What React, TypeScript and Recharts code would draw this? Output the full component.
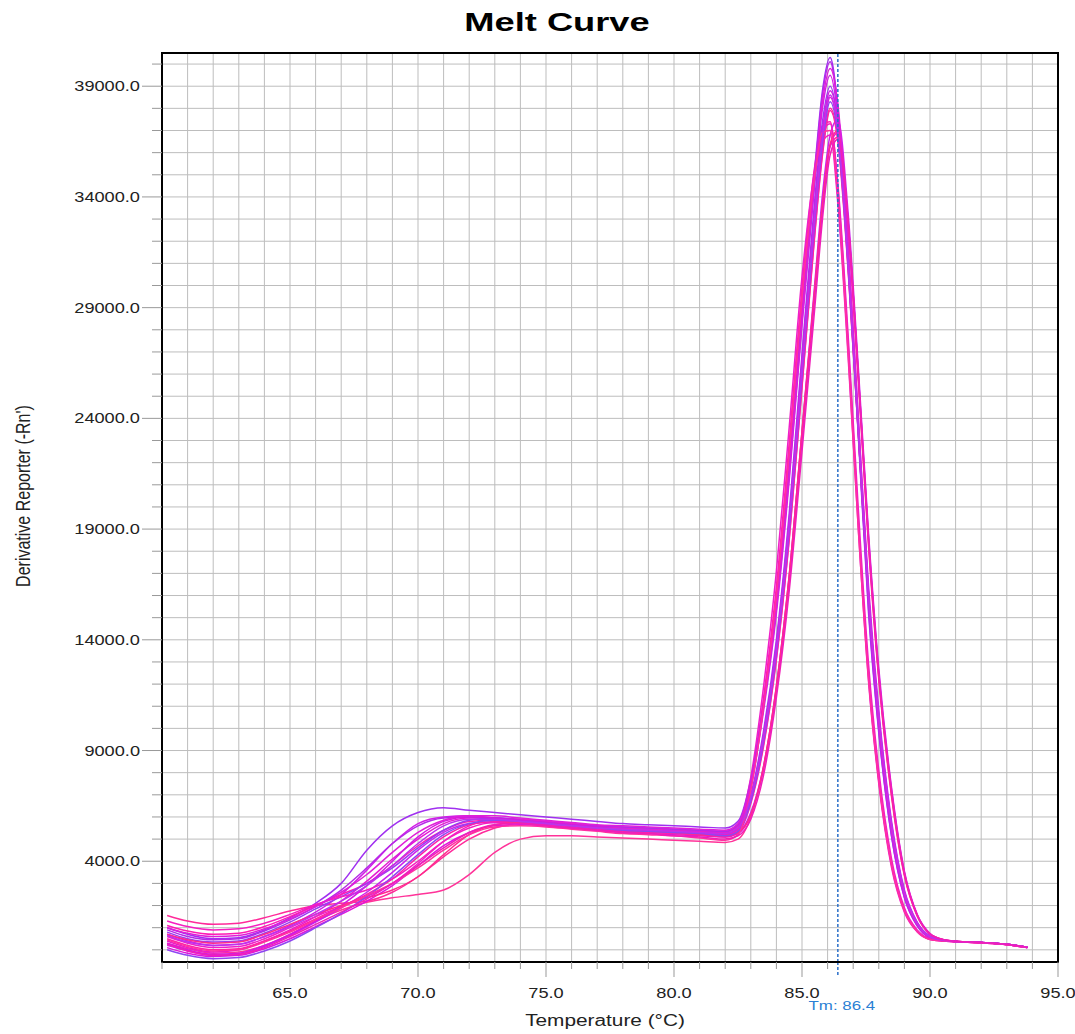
import React from 'react'
import {
  LineChart,
  Line,
  XAxis,
  YAxis,
  CartesianGrid,
  ReferenceLine,
  ReferenceArea,
  Label,
} from 'recharts'

// temperatures (°C) shared by every well
const temps = [
  60.2, 61, 62, 63, 64, 65, 66, 67, 68, 69, 70, 71, 72, 73, 74, 75, 76, 77, 78, 79, 80, 81, 82,
  82.5, 83, 83.5, 84, 84.5, 85, 85.5, 85.8, 86.1, 86.4, 86.8, 87.2, 87.6, 88, 88.5, 89, 89.5, 90,
  90.5, 91, 92, 93, 93.8,
]

// derivative reporter per well
const wellA1 = [1550, 1300, 1150, 1200, 1450, 1750, 2000, 2100, 2200, 2600, 3300, 4200, 5000, 5500, 5700, 5650, 5550, 5450, 5400, 5350, 5300, 5250, 5200,
  5400, 6700, 9300, 13200, 18600, 25500, 32400, 36000, 38000, 36700, 30800, 23300, 15800, 10400, 5500, 2550, 1200, 600, 430, 380, 330, 250, 120]
const wellA2 = [1000, 700, 500, 550, 900, 1450, 2100, 3000, 4500, 5600, 6200, 6420, 6300, 6200, 6100, 6000, 5900, 5800, 5700, 5650, 5600, 5550, 5500,
  5800, 7700, 11200, 15800, 21800, 28800, 35300, 38800, 40300, 38000, 31300, 23200, 15200, 9800, 5100, 2350, 1080, 540, 420, 380, 320, 240, 100]
const wellA3 = [300, 50, -150, -100, 200, 700, 1300, 1800, 2150, 2350, 2500, 2700, 3400, 4400, 5000, 5150, 5150, 5100, 5050, 5000, 4950, 4900, 4850,
  5000, 6000, 8200, 11800, 16800, 23300, 29800, 33600, 36300, 36700, 32500, 25600, 18200, 12200, 6900, 3350, 1520, 700, 460, 390, 330, 250, 110]
const wellA4 = [700, 400, 200, 250, 600, 1100, 1700, 2500, 3600, 4800, 5700, 6000, 6050, 5950, 5850, 5750, 5650, 5600, 5500, 5450, 5400, 5350, 5300,
  5600, 7400, 10800, 15200, 21200, 28200, 34600, 38000, 39500, 37600, 31300, 23600, 15800, 10200, 5300, 2450, 1120, 560, 420, 380, 320, 240, 100]
const wellA5 = [400, 100, -100, 0, 400, 900, 1500, 2200, 3100, 4100, 5000, 5700, 5950, 5950, 5850, 5750, 5650, 5550, 5450, 5400, 5350, 5300, 5250,
  5450, 6800, 9500, 13500, 19000, 26000, 33000, 36500, 38500, 37000, 31000, 23500, 16000, 10500, 5600, 2600, 1200, 600, 430, 380, 330, 250, 120]
const wellA6 = [1100, 850, 700, 750, 1050, 1500, 2000, 2500, 3000, 3800, 4700, 5400, 5800, 5850, 5750, 5650, 5550, 5450, 5400, 5350, 5300, 5250, 5200,
  5500, 7500, 11400, 16400, 22900, 29900, 35400, 37200, 37400, 34400, 27400, 19400, 12400, 7700, 3850, 1780, 840, 480, 400, 370, 310, 230, 100]
const wellB1 = [200, -50, -250, -200, 150, 650, 1250, 1900, 2600, 3500, 4500, 5300, 5700, 5750, 5700, 5600, 5500, 5400, 5350, 5300, 5250, 5200, 5150,
  5300, 6200, 8300, 11900, 16900, 23400, 30100, 34100, 36800, 37500, 33300, 26300, 18800, 12700, 7300, 3550, 1600, 740, 470, 390, 330, 250, 110]
const wellB2 = [800, 500, 350, 400, 750, 1250, 1850, 2400, 3000, 3700, 4600, 5400, 5850, 5950, 5900, 5800, 5700, 5600, 5550, 5500, 5450, 5400, 5350,
  5600, 7000, 9900, 14000, 19700, 26900, 33900, 37400, 39000, 37300, 31200, 23600, 16000, 10400, 5500, 2550, 1180, 590, 430, 380, 330, 250, 120]
const wellB3 = [600, 300, 100, 150, 500, 1000, 1500, 1950, 2400, 3000, 3900, 4900, 5600, 5900, 5900, 5800, 5700, 5600, 5500, 5450, 5400, 5350, 5300,
  5600, 7800, 11900, 17100, 23600, 30400, 35200, 36500, 36800, 33700, 26800, 19000, 12100, 7500, 3700, 1700, 810, 470, 400, 370, 310, 230, 100]
const wellB4 = [100, -150, -300, -250, 50, 500, 1050, 1600, 2200, 2900, 3800, 4700, 5300, 5600, 5650, 5600, 5500, 5400, 5300, 5250, 5200, 5150, 5100,
  5250, 6100, 8200, 11700, 16600, 23000, 29500, 33400, 36300, 36900, 32900, 26000, 18500, 12400, 7100, 3450, 1560, 720, 460, 390, 330, 250, 110]
const wellB5 = [900, 600, 450, 500, 850, 1350, 1950, 2700, 3700, 4800, 5600, 5950, 6000, 5950, 5850, 5750, 5650, 5600, 5550, 5500, 5450, 5400, 5350,
  5650, 7600, 11100, 15600, 21600, 28600, 35100, 38600, 40100, 37900, 31400, 23400, 15400, 9900, 5150, 2380, 1090, 550, 420, 380, 320, 240, 100]
const wellB6 = [500, 200, 0, 50, 400, 850, 1400, 1950, 2500, 3200, 4200, 5100, 5650, 5800, 5750, 5650, 5550, 5450, 5350, 5300, 5250, 5200, 5100,
  5300, 6600, 9200, 13100, 18500, 25400, 32300, 35900, 37900, 36500, 30700, 23300, 15900, 10400, 5550, 2580, 1190, 600, 430, 380, 330, 250, 120]
const wellC1 = [1300, 1050, 900, 950, 1200, 1600, 2050, 2400, 2700, 3200, 4000, 4900, 5500, 5750, 5750, 5650, 5550, 5450, 5400, 5350, 5300, 5250, 5200,
  5450, 7300, 11000, 15900, 22300, 29300, 34900, 36900, 37300, 34600, 27800, 19900, 12900, 8100, 4100, 1900, 900, 500, 410, 370, 310, 230, 100]
const wellC2 = [300, 0, -200, -150, 200, 700, 1300, 2000, 2900, 4000, 5100, 5800, 6000, 5950, 5850, 5750, 5650, 5550, 5450, 5400, 5350, 5300, 5250,
  5500, 6900, 9700, 13800, 19400, 26600, 33500, 37000, 38800, 37400, 31500, 24000, 16400, 10800, 5800, 2700, 1250, 620, 440, 380, 330, 250, 120]
const wellC3 = [700, 450, 300, 350, 700, 1150, 1600, 2000, 2350, 2700, 3300, 4300, 5200, 5650, 5750, 5700, 5600, 5500, 5400, 5350, 5300, 5200, 5150,
  5300, 6100, 8300, 11900, 16900, 23400, 29900, 33700, 36400, 37000, 32900, 25900, 18400, 12300, 7000, 3400, 1550, 720, 470, 390, 330, 250, 110]
const wellC4 = [0, -250, -400, -350, -50, 400, 1000, 1650, 2400, 3300, 4300, 5200, 5700, 5850, 5800, 5700, 5600, 5500, 5400, 5350, 5300, 5250, 5150,
  5350, 6700, 9400, 13400, 18900, 25900, 32900, 36400, 38300, 36800, 30900, 23400, 15900, 10500, 5600, 2600, 1200, 600, 430, 380, 330, 250, 120]
const wellC5 = [1000, 750, 600, 650, 950, 1400, 1950, 2600, 3400, 4400, 5300, 5850, 6050, 6050, 5950, 5850, 5750, 5650, 5600, 5550, 5500, 5450, 5400,
  5700, 7500, 11000, 15400, 21400, 28400, 34900, 38300, 39800, 38200, 32000, 24000, 16000, 10300, 5400, 2500, 1150, 570, 420, 380, 320, 240, 100]
const wellC6 = [450, 150, -50, 0, 350, 800, 1350, 1900, 2450, 3000, 3700, 4500, 5200, 5550, 5600, 5550, 5450, 5350, 5250, 5200, 5150, 5050, 4950,
  5200, 7200, 11000, 16000, 22500, 29500, 35000, 36900, 37000, 34000, 27000, 19000, 12200, 7600, 3800, 1750, 830, 470, 400, 370, 310, 230, 100]
const wellD1 = [650, 350, 200, 250, 600, 1050, 1600, 2200, 2900, 3800, 4800, 5600, 5900, 5900, 5800, 5700, 5600, 5500, 5450, 5400, 5350, 5300, 5250,
  5500, 6900, 9600, 13600, 19200, 26200, 33200, 36700, 38600, 37100, 31100, 23600, 16100, 10600, 5650, 2620, 1210, 600, 430, 380, 330, 250, 120]
const wellD2 = [250, -50, -250, -200, 100, 600, 1150, 1700, 2300, 3000, 3800, 4600, 5300, 5650, 5700, 5600, 5500, 5400, 5300, 5250, 5150, 5100, 5000,
  5150, 5900, 7900, 11400, 16200, 22500, 29000, 33000, 35900, 36600, 32800, 26000, 18600, 12500, 7200, 3500, 1580, 720, 460, 390, 330, 250, 110]

const wells = [
  wellA1, wellA2, wellA3, wellA4, wellA5, wellA6, wellB1, wellB2, wellB3, wellB4,
  wellB5, wellB6, wellC1, wellC2, wellC3, wellC4, wellC5, wellC6, wellD1, wellD2,
]
const wellNames = [
  'A1', 'A2', 'A3', 'A4', 'A5', 'A6', 'B1', 'B2', 'B3', 'B4',
  'B5', 'B6', 'C1', 'C2', 'C3', 'C4', 'C5', 'C6', 'D1', 'D2',
]
const lineColors = [
  '#ff2a9a', '#a030f0', '#ff3399', '#d21ee6', '#e619d2', '#ff1ab4', '#cc22ee', '#9b3cf0', '#f020c8', '#e014dc',
  '#b52ae8', '#ff20a8', '#f51ec0', '#d41ae0', '#ff2a8c', '#8f45f2', '#e01ed8', '#ff30a0', '#c030ec', '#f01eb8',
]

// tick labels
const xLabels = [65, 70, 75, 80, 85, 90, 95]
const yLabels = [4000, 9000, 14000, 19000, 24000, 29000, 34000, 39000]
const tmValue = 86.4

const xGrid = Array.from({ length: 36 }, (_, i) => 60 + i)
const yGrid = Array.from({ length: 41 }, (_, i) => i * 1000)

const rows = temps.map((t, i) => {
  const row: Record<string, number> = { t }
  wells.forEach((w, j) => {
    row[wellNames[j]] = w[i]
  })
  return row
})

const FONT = "'Liberation Sans', Arial, sans-serif"

const XTick = (props: any) => {
  const { x, y, payload } = props
  if (!xLabels.includes(payload.value)) return <g />
  return (
    <g>
      <line x1={x} y1={y} x2={x} y2={y + 8} stroke='#999' />
      <text
        transform={`translate(${x} ${y + 29}) scale(1.3 1)`}
        textAnchor='middle'
        fontSize={14}
        fontFamily={FONT}
        fill='#222'
      >
        {payload.value.toFixed(1)}
      </text>
    </g>
  )
}

const YTick = (props: any) => {
  const { x, y, payload } = props
  if (!yLabels.includes(payload.value)) return <g />
  return (
    <g>
      <line x1={x} y1={y} x2={x - 10} y2={y} stroke='#999' />
      <text
        transform={`translate(${x - 12} ${y + 5}) scale(1.3 1)`}
        textAnchor='end'
        fontSize={14}
        fontFamily={FONT}
        fill='#222'
      >
        {payload.value.toFixed(1)}
      </text>
    </g>
  )
}

const TmLabel = (props: any) => {
  const vb = props.viewBox || {}
  const cx = (vb.x ?? 0) + (vb.width ?? 0) / 2
  const bottom = (vb.y ?? 0) + (vb.height ?? 0)
  return (
    <g>
      <line x1={cx} y1={bottom} x2={cx} y2={bottom + 13} stroke='#2a6fc9' strokeWidth={1.5} strokeDasharray='3 2' />
      <text
        transform={`translate(${cx + 4} ${bottom + 48}) scale(1.3 1)`}
        textAnchor='middle'
        fontSize={13}
        fontFamily={FONT}
        fill='#2a7fd4'
      >
        {`Tm: ${tmValue}`}
      </text>
    </g>
  )
}

export default function App() {
  return (
    <div style={{ position: 'absolute', left: 0, top: 0, width: 1075, height: 1034, background: '#fff' }}>
      <div
        style={{
          position: 'absolute',
          left: 557,
          top: 22,
          transform: 'translate(-50%, -50%) scaleX(1.45)',
          fontFamily: FONT,
          fontWeight: 'bold',
          fontSize: 25,
          whiteSpace: 'nowrap',
          color: '#000',
        }}
      >
        Melt Curve
      </div>
      <LineChart
        width={1075}
        height={1034}
        data={rows}
        margin={{ top: 53, right: 17, bottom: 0, left: 0 }}
      >
        <CartesianGrid stroke='#bdbdbd' strokeWidth={1} />
        <XAxis
          dataKey='t'
          type='number'
          domain={[60, 95]}
          ticks={xGrid}
          interval={0}
          allowDataOverflow
          height={72}
          axisLine={{ stroke: '#000', strokeWidth: 2 }}
          tickLine={{ stroke: '#999' }}
          tickSize={7}
          tickMargin={0}
          tick={<XTick />}
        />
        <YAxis
          type='number'
          domain={[-550, 40500]}
          ticks={yGrid}
          interval={0}
          allowDataOverflow
          width={162}
          axisLine={{ stroke: '#000', strokeWidth: 2 }}
          tickLine={{ stroke: '#999' }}
          tickSize={10}
          tickMargin={0}
          tick={<YTick />}
        />
        {wellNames.map((name, i) => (
          <Line
            key={name}
            dataKey={name}
            type='monotone'
            stroke={lineColors[i]}
            strokeWidth={1.5}
            dot={false}
            isAnimationActive={false}
          />
        ))}
        <ReferenceLine x={tmValue} stroke='#2a6fc9' strokeWidth={1.5} strokeDasharray='3 2'>
          <Label content={<TmLabel />} />
        </ReferenceLine>
        <ReferenceArea x1={60} x2={95} y1={-550} y2={40500} fill='none' stroke='#000' strokeWidth={2} ifOverflow='visible' />
      </LineChart>
      <div
        style={{
          position: 'absolute',
          left: 605,
          top: 1021,
          transform: 'translate(-50%, -50%) scaleX(1.3)',
          fontFamily: FONT,
          fontSize: 16,
          whiteSpace: 'nowrap',
          color: '#222',
        }}
      >
        Temperature (°C)
      </div>
      <div
        style={{
          position: 'absolute',
          left: 23,
          top: 496,
          transform: 'translate(-50%, -50%) rotate(-90deg) scaleY(1.3)',
          fontFamily: FONT,
          fontSize: 16,
          whiteSpace: 'nowrap',
          color: '#222',
        }}
      >
        Derivative Reporter (-Rn')
      </div>
    </div>
  )
}
